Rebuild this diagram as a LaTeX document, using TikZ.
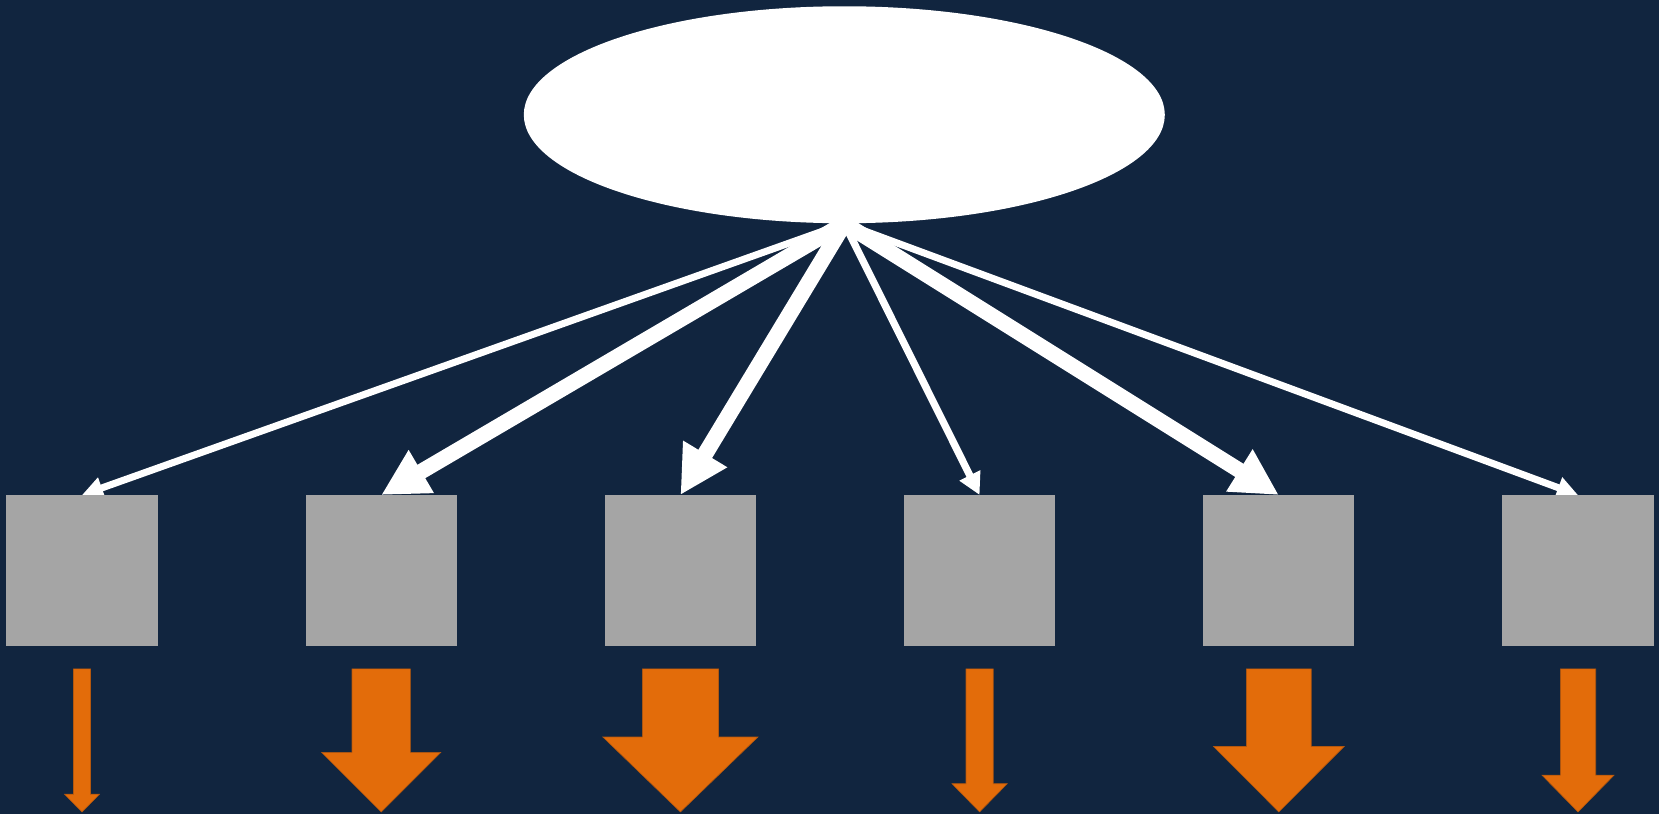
\documentclass[tikz,border=0pt]{standalone}
\usetikzlibrary{arrows.meta,shapes.geometric}
\pgfdeclarelayer{background}
\pgfsetlayers{background,main}
\definecolor{bg}{HTML}{11253F}
\definecolor{boxgray}{HTML}{A5A5A5}
\definecolor{orangefill}{HTML}{E36C0A}
\definecolor{orangeedge}{HTML}{B4570D}
\begin{document}
\begin{tikzpicture}[x=1pt,y=-1pt,
  latent/.style={ellipse, fill=white, minimum width=641pt, minimum height=217pt, inner sep=0pt},
  indicator/.style={rectangle, fill=boxgray, minimum width=151.3pt, minimum height=151.2pt, inner sep=0pt},
  loading/.style={draw=white, shorten <=-12pt, -{Triangle[length=0pt 3, width=0pt 3]}},
  errarrow/.style={fill=orangefill, draw=orangeedge, line width=0.6pt, line join=miter}]
\begin{pgfonlayer}{background}
\fill[bg] (0,0) rectangle (1659,814);
\end{pgfonlayer}
\useasboundingbox (0,0) rectangle (1659,814);
\node[latent] (F) at (844.3,114.75) {};
\foreach \i/\x in {1/82,2/381.2,3/680.4,4/979.6,5/1278.8,6/1578}
  \node[indicator] (b\i) at (\x,570.8) {};
\begin{pgfonlayer}{background}
\draw[loading, line width=7pt]   (F.south) -- (b1.north);
\draw[loading, line width=15.5pt] (F.south) -- (b2.north);
\draw[loading, line width=16pt]  (F.south) -- (b3.north);
\draw[loading, line width=7.3pt] (F.south) -- (b4.north);
\draw[loading, line width=15.5pt] (F.south) -- (b5.north);
\draw[loading, line width=7pt]   (F.south) -- (b6.north);
\end{pgfonlayer}
\foreach \i/\s/\h/\d in {1/8.5/17.5/147.6, 2/29.2/59.5/105.8, 3/38.1/77.5/90.4, 4/13.6/27.6/137.1, 5/32.4/65.3/99.9, 6/17.7/36/128.6} {
  \begin{scope}[shift={(b\i.south)}]
    \draw[errarrow] (-\s,22.3) -- (\s,22.3) -- (\s,\d) -- (\h,\d) -- (0,165.3) -- (-\h,\d) -- (-\s,\d) -- cycle;
  \end{scope}
}
\end{tikzpicture}
\end{document}
